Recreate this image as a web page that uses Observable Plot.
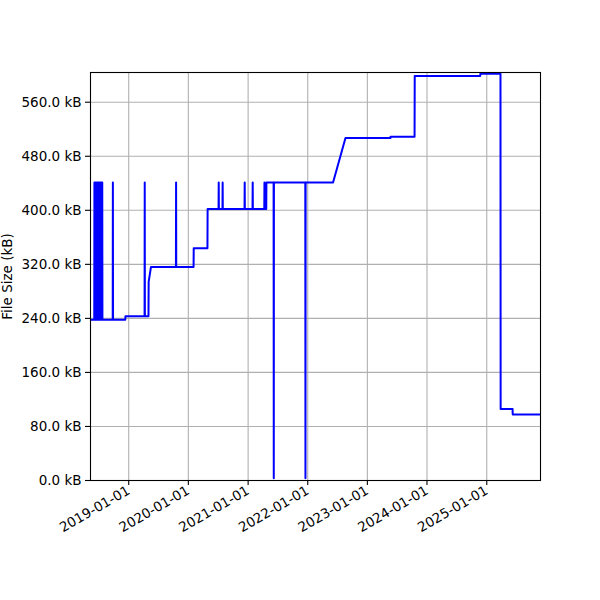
<!DOCTYPE html>
<html><head><meta charset="utf-8">
<script src="https://cdn.jsdelivr.net/npm/d3@7"></script>
<script src="https://cdn.jsdelivr.net/npm/@observablehq/plot@0.6"></script>
<style>body{margin:0;background:#fff;}</style>
</head><body><div id="chart"></div>
<script>
const dates = [
  "2018-05-12","2018-06-04","2018-06-05","2018-06-08","2018-06-09","2018-06-12","2018-06-13","2018-06-17",
  "2018-06-18","2018-06-21","2018-06-22","2018-06-26","2018-06-27","2018-06-30","2018-07-01","2018-07-05",
  "2018-07-06","2018-07-09","2018-07-10","2018-07-14","2018-07-15","2018-07-17","2018-07-18","2018-07-23",
  "2018-07-24",
  "2018-09-25","2018-09-26","2018-09-27",
  "2018-12-11","2018-12-12",
  "2019-04-08","2019-04-09","2019-04-10",
  "2019-05-02","2019-05-03","2019-05-17",
  "2019-10-17","2019-10-18","2019-10-19",
  "2020-02-02","2020-02-03",
  "2020-04-27","2020-04-28",
  "2020-07-04","2020-07-05","2020-07-06",
  "2020-07-28","2020-07-29","2020-07-30",
  "2020-12-10","2020-12-11","2020-12-12",
  "2021-01-28","2021-01-29","2021-01-30",
  "2021-04-10","2021-04-11","2021-04-12","2021-04-22","2021-04-23",
  "2021-06-06","2021-06-07","2021-06-08",
  "2021-12-17","2021-12-18","2021-12-19",
  "2022-06-05","2022-08-20",
  "2023-05-22","2023-05-23",
  "2023-10-17","2023-10-18",
  "2024-11-22","2024-11-23",
  "2025-03-26","2025-03-27",
  "2025-06-08","2025-06-09",
  "2025-11-26"
];
const sizesKB = [
  238,238,441,441,238,238,441,441,
  238,238,441,441,238,238,441,441,
  238,238,441,441,238,238,441,441,
  238,
  238,441,238,
  238,243,
  243,441,243,
  243,294,316,
  316,441,316,
  316,344,
  344,402,
  402,441,402,
  402,441,402,
  402,441,402,
  402,441,402,
  402,441,402,402,441,
  441,3.4,441,
  441,3.4,441,
  441,507,
  507,509,
  509,599,
  599,602,
  602,106,
  106,97.8,
  97.8
];
const yTicks = [0, 80, 160, 240, 320, 400, 480, 560];
const xTickLabels = ["2019-01-01","2020-01-01","2021-01-01","2022-01-01","2023-01-01","2024-01-01","2025-01-01"];
const yLabel = "File Size (kB)";

const parse = d3.utcParse("%Y-%m-%d");
const data = dates.map((d, i) => ({date: parse(d), size: sizesKB[i]}));
const xTicks = xTickLabels.map(parse);

const chart = Plot.plot({
  width: 600, height: 600,
  marginLeft: 90, marginRight: 60, marginTop: 72, marginBottom: 120,
  style: {fontFamily: "DejaVu Sans", fontSize: "13.5px", color: "black", background: "white", overflow: "visible"},
  x: {type: "utc", domain: [data[0].date, data[data.length - 1].date]},
  y: {domain: [0, 604]},
  marks: [
    Plot.gridX(xTicks, {stroke: "#b0b0b0", strokeOpacity: 1, strokeWidth: 1.1}),
    Plot.gridY(yTicks, {stroke: "#b0b0b0", strokeOpacity: 1, strokeWidth: 1.1}),
    Plot.line(data, {x: "date", y: "size", stroke: "blue", strokeWidth: 2, clip: true}),
    Plot.frame({stroke: "black", strokeWidth: 1.1}),
    Plot.axisY(yTicks, {tickSize: 5, tickPadding: 4, strokeWidth: 1.1, fill: "black",
      tickFormat: d => d.toFixed(1) + " kB",
      label: yLabel, labelAnchor: "center", labelArrow: "none", labelOffset: 88}),
    Plot.axisX(xTicks, {tickSize: 5, tickPadding: 4, strokeWidth: 1.1, fill: "black", tickRotate: -30,
      tickFormat: d3.utcFormat("%Y-%m-%d"), label: null})
  ]
});
document.getElementById("chart").appendChild(chart);
</script>
</body></html>
